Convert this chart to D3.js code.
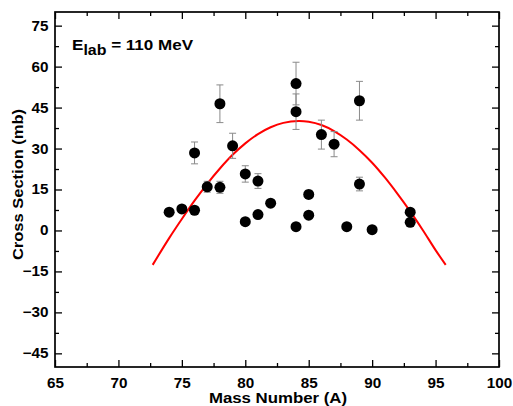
<!DOCTYPE html>
<html><head><meta charset="utf-8">
<script src="https://cdn.jsdelivr.net/npm/d3@7/dist/d3.min.js"></script>
<style>body{margin:0;background:#fff}svg{display:block}</style>
</head><body>
<svg id="c" width="513" height="406"></svg>
<script>
// data
const massNumber = [74, 75, 76, 76, 77, 78, 78, 79, 80, 80, 81, 81, 82, 84, 84, 84, 85, 85, 86, 87, 88, 89, 89, 90, 93, 93];
const crossSection = [6.7, 7.9, 7.4, 28.4, 16.0, 15.8, 46.4, 31.0, 3.2, 20.7, 5.8, 18.1, 10.0, 1.4, 53.8, 43.5, 13.2, 5.6, 35.1, 31.6, 1.4, 47.5, 17.0, 0.3, 6.7, 3.0];
const errorBar = [0, 0, 0, 4.0, 2.0, 2.2, 6.9, 4.6, 0, 3.0, 0, 2.7, 0, 0, 7.8, 6.5, 1.5, 0, 5.3, 4.6, 0, 7.1, 2.5, 0, 0, 0];
const curveX = [72.7, 74, 75, 76, 77, 78, 79, 80, 81, 82, 83, 84.2, 85, 86, 87, 88, 89, 90, 91, 92, 93, 94, 95, 95.8];
const curveY = [-12.6, -2.8, 4.2, 10.9, 17.1, 22.7, 27.7, 31.9, 35.3, 37.8, 39.4, 40.1, 39.8, 38.6, 36.4, 33.3, 29.4, 24.8, 19.4, 13.4, 7.0, 0.1, -7.2, -12.6];
const xMajorTicks = [65, 70, 75, 80, 85, 90, 95, 100];
const xMinorTicks = [67.5, 72.5, 77.5, 82.5, 87.5, 92.5, 97.5];
const yMajorTicks = [-45, -30, -15, 0, 15, 30, 45, 60, 75];
const yMinorTicks = [-37.5, -22.5, -7.5, 7.5, 22.5, 37.5, 52.5, 67.5];
const xTitle = "Mass Number (A)";
const yTitle = "Cross Section (mb)";

const L = 55, R = 499, T = 12, B = 367;
const x = d3.scaleLinear().domain([65, 100]).range([L, R]);
const y = d3.scaleLinear().domain([-50, 80]).range([B, T]);
const svg = d3.select("#c");
const font = "'Liberation Sans', Arial, sans-serif";

// axes
function styleAxis(g) {
  g.select(".domain").remove();
  g.selectAll(".tick line").attr("stroke", "#000").attr("stroke-width", 1.3);
  g.selectAll("text").attr("font-family", font).attr("font-weight", "bold").attr("font-size", 14)
    .attr("fill", "#000").attr("transform", "scale(1.09,1)");
}
svg.append("g").attr("transform", `translate(0,${B})`)
  .call(d3.axisBottom(x).tickValues(xMajorTicks).tickSize(-7).tickPadding(10.6).tickFormat(d3.format("d")))
  .call(styleAxis);
svg.append("g").attr("transform", `translate(0,${B})`)
  .call(d3.axisBottom(x).tickValues(xMinorTicks).tickSize(-4).tickFormat(""))
  .call(styleAxis);
svg.append("g").attr("transform", `translate(0,${T})`)
  .call(d3.axisTop(x).tickValues(xMajorTicks).tickSize(-7).tickFormat(""))
  .call(styleAxis);
svg.append("g").attr("transform", `translate(0,${T})`)
  .call(d3.axisTop(x).tickValues(xMinorTicks).tickSize(-4).tickFormat(""))
  .call(styleAxis);
svg.append("g").attr("transform", `translate(${L},0)`)
  .call(d3.axisLeft(y).tickValues(yMajorTicks).tickSize(-7).tickPadding(6).tickFormat(d3.format("d")))
  .call(styleAxis);
svg.append("g").attr("transform", `translate(${L},0)`)
  .call(d3.axisLeft(y).tickValues(yMinorTicks).tickSize(-4).tickFormat(""))
  .call(styleAxis);
svg.append("g").attr("transform", `translate(${R},0)`)
  .call(d3.axisRight(y).tickValues(yMajorTicks).tickSize(-7).tickFormat(""))
  .call(styleAxis);
svg.append("g").attr("transform", `translate(${R},0)`)
  .call(d3.axisRight(y).tickValues(yMinorTicks).tickSize(-4).tickFormat(""))
  .call(styleAxis);

// frame
svg.append("rect").attr("x", L).attr("y", T).attr("width", R - L).attr("height", B - T)
  .attr("fill", "none").attr("stroke", "#000").attr("stroke-width", 1.7);

// fit curve
const curveData = curveX.map((v, i) => [v, curveY[i]]);
svg.append("path").datum(curveData)
  .attr("d", d3.line().x(d => x(d[0])).y(d => y(d[1])).curve(d3.curveCatmullRom))
  .attr("fill", "none").attr("stroke", "#ff0000").attr("stroke-width", 2);

// error bars
const pts = massNumber.map((m, i) => ({m, v: crossSection[i], e: errorBar[i]}));
const eb = svg.append("g").attr("stroke", "#8a8a8a").attr("stroke-width", 1);
pts.filter(d => d.e > 0).forEach(d => {
  eb.append("line").attr("x1", x(d.m)).attr("x2", x(d.m)).attr("y1", y(d.v - d.e)).attr("y2", y(d.v + d.e));
  [d.v - d.e, d.v + d.e].forEach(t => eb.append("line")
    .attr("x1", x(d.m) - 3.5).attr("x2", x(d.m) + 3.5).attr("y1", y(t)).attr("y2", y(t)));
});

// points
svg.append("g").selectAll("circle").data(pts).join("circle")
  .attr("cx", d => x(d.m)).attr("cy", d => y(d.v)).attr("r", 5.5).attr("fill", "#000");

// titles
svg.append("text").attr("transform", `translate(${(L + R) / 2 + 1},403) scale(1.16,1)`).attr("text-anchor", "middle")
  .attr("font-family", font).attr("font-weight", "bold").attr("font-size", 14.5).text(xTitle);
svg.append("text").attr("transform", `translate(23,${(T + B) / 2 - 5}) rotate(-90) scale(1.1,1)`).attr("text-anchor", "middle")
  .attr("font-family", font).attr("font-weight", "bold").attr("font-size", 15).text(yTitle);

// annotation
const ann = svg.append("text").attr("transform", "translate(72,49.5) scale(1.1,1)")
  .attr("font-family", font).attr("font-weight", "bold").attr("font-size", 15.5);
ann.append("tspan").text("E");
ann.append("tspan").attr("dy", 5).attr("font-size", 14.5).text("lab");
ann.append("tspan").attr("dy", -5).text(" = 110 MeV");
</script>
</body></html>
